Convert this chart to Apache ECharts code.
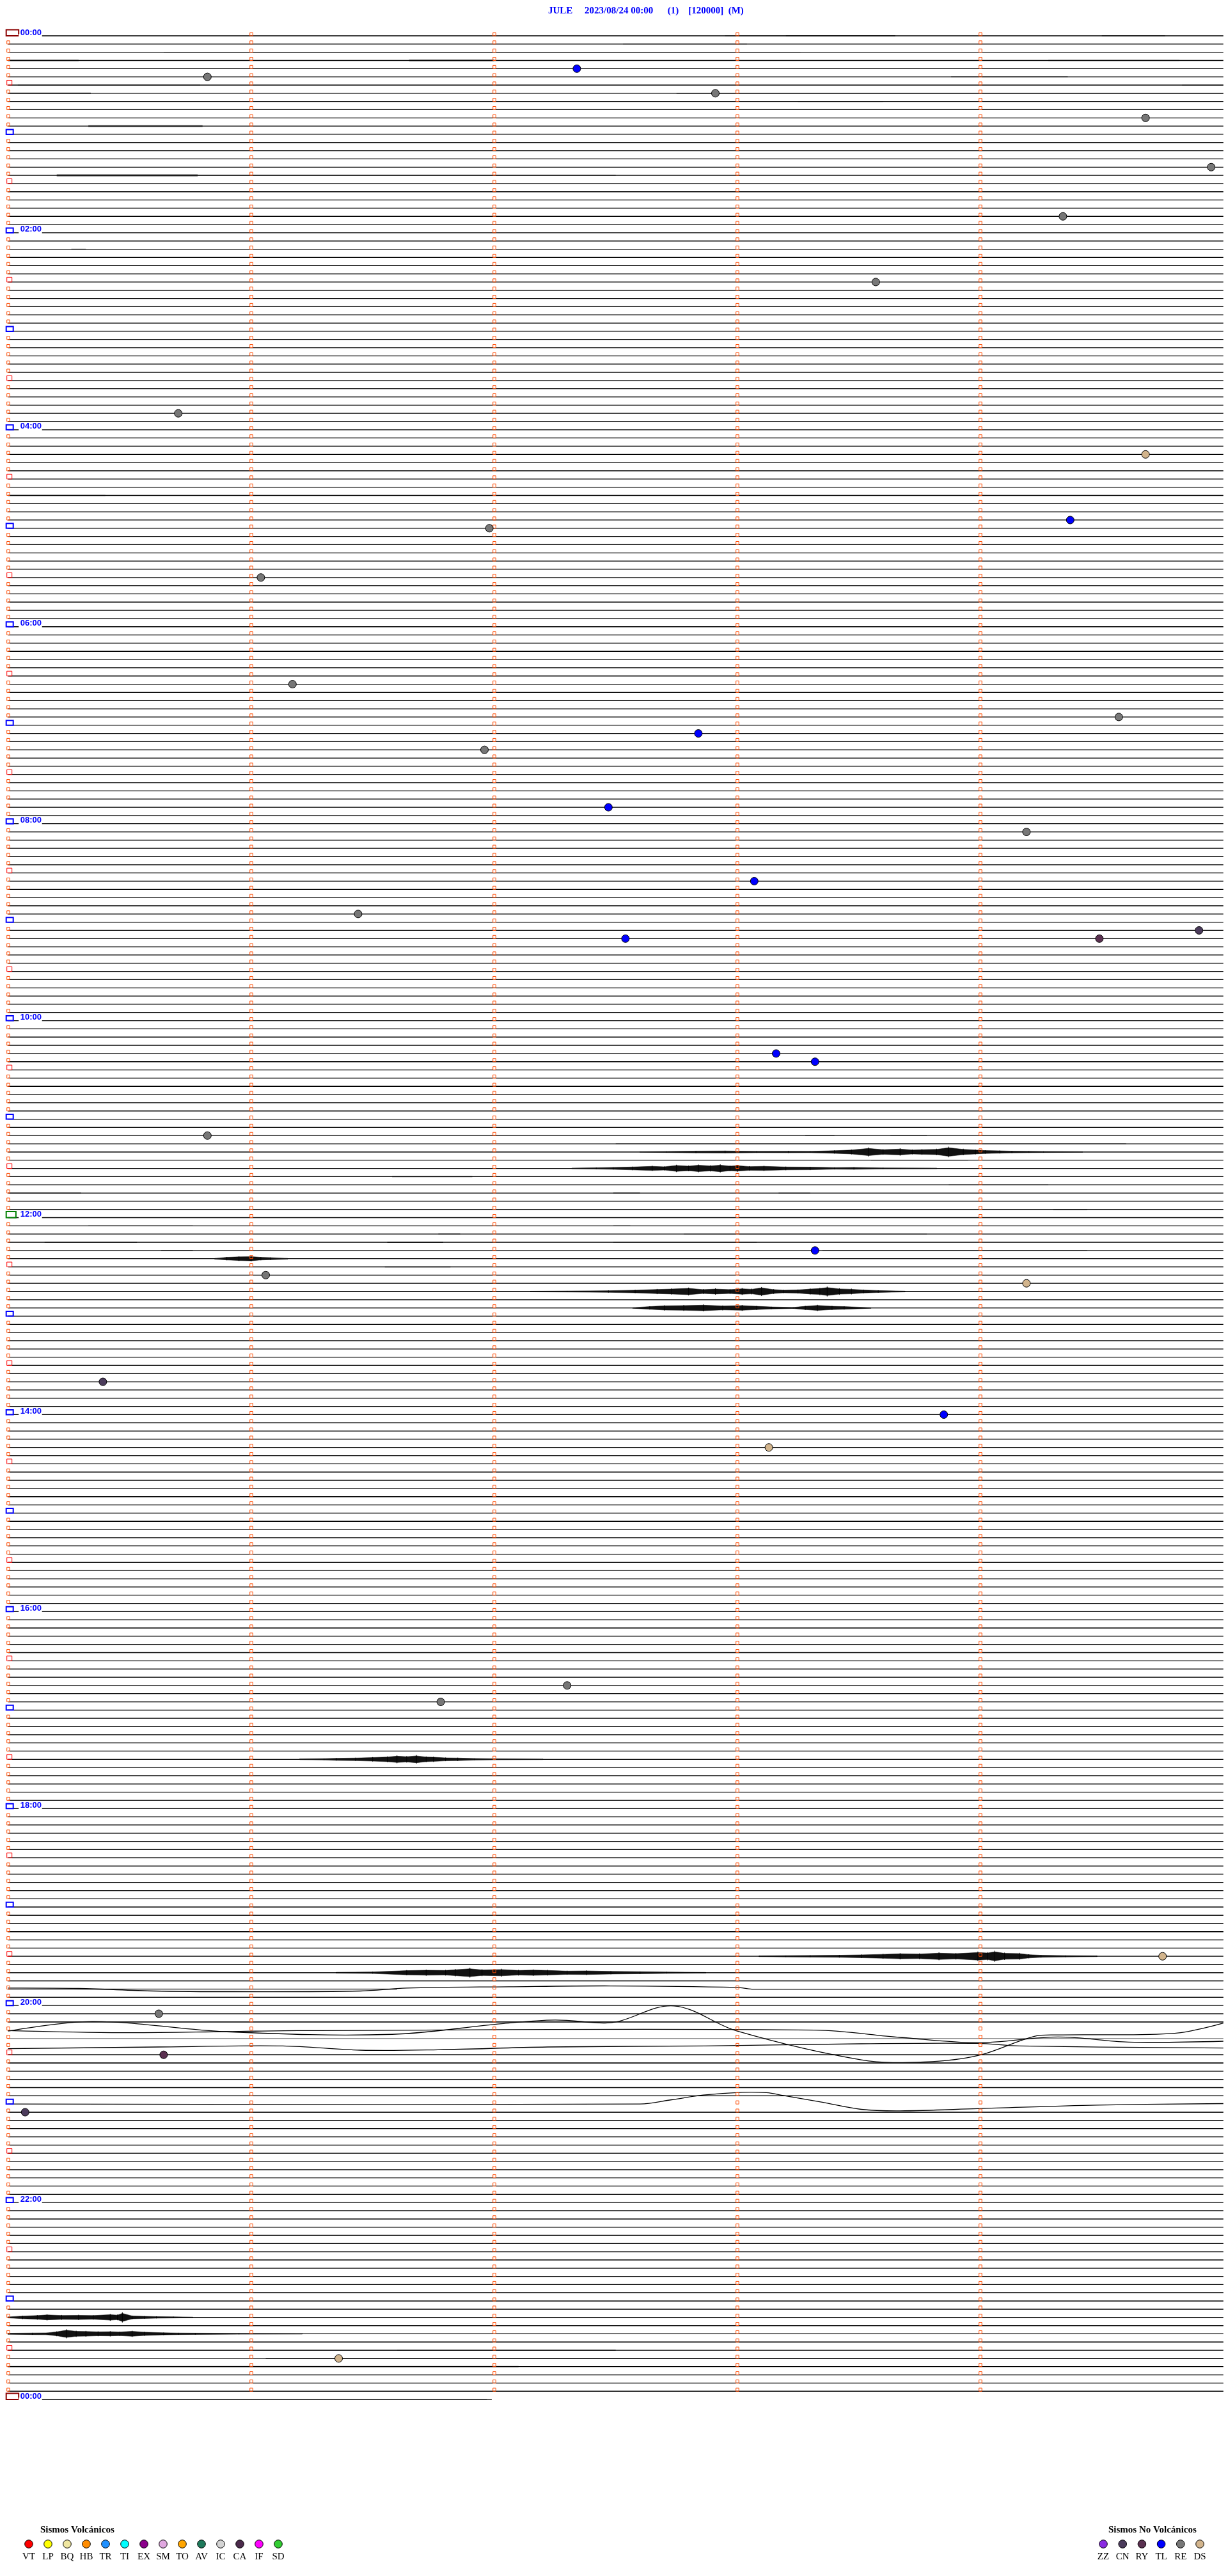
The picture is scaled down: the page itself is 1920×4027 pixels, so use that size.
<!DOCTYPE html>
<html><head><meta charset="utf-8">
<script src="https://cdn.jsdelivr.net/npm/echarts/dist/echarts.min.js"></script>
<style>html,body{margin:0;padding:0;background:#fff}#c{width:1920px;height:4027px}</style>
</head><body><div id="c"></div>
<script>
// ---------------- DATA ----------------
const stationTitle = 'JULE     2023/08/24 00:00      (1)    [120000]  (M)';
const traceCount = 289;            // 288 five-minute traces + first trace of next day
const minuteTicks = [0, 1, 2, 3, 4];
const lastTraceEnd = 1.99;         // minutes recorded on the final trace
const hourLabelTraces = [0, 24, 48, 72, 96, 120, 144, 168, 192, 216, 240, 264, 288];
const hourLabelTexts = ['00:00','02:00','04:00','06:00','08:00','10:00','12:00','14:00','16:00','18:00','20:00','22:00','00:00'];

// events: [minute within trace, trace index]
const eventsRE = [[0.82,5],[2.91,7],[4.68,10],[4.95,16],[4.34,22],[3.57,30],[0.70,46],[1.98,60],[1.04,66],[1.17,79],[4.57,83],[1.96,87],[4.19,97],[1.44,107],[0.82,134],[1.06,151],[2.30,201],[1.78,203],[0.62,241]];
const eventsTL = [[2.34,4],[4.37,59],[2.84,85],[2.47,94],[3.07,103],[2.54,110],[3.16,124],[3.32,125],[3.32,148],[3.85,168]];
const eventsDS = [[4.68,51],[4.19,152],[3.13,172],[4.75,234],[1.36,283]];
const eventsCN = [[4.90,109],[0.39,164],[0.07,253]];
const eventsRY = [[4.49,110],[0.64,246]];

// low-level noise bands: [trace, startMinute, endMinute, halfAmplitude (trace units)]
const noiseBands = [
  [0,3.2,3.65,0.08],[0,2.95,3.2,0.04],[0,4.5,4.76,0.05],
  [1,2.53,3.04,0.04],
  [2,0.64,3.26,0.05],
  [3,0,0.29,0.08],[3,0.29,1.65,0.03],[3,1.65,2.0,0.1],[3,2.0,3.35,0.04],[3,4.28,4.82,0.06],
  [5,3.88,4.36,0.06],
  [6,0.04,0.79,0.05],[6,4.83,5,0.04],
  [7,0,0.34,0.08],[7,2.75,5,0.06],
  [8,3.25,3.6,0.05],
  [9,0.63,2.03,0.04],
  [11,0.33,0.8,0.1],
  [13,0,5,0.07],
  [17,0.2,0.78,0.12],[17,0.78,2.5,0.04],
  [26,0.26,0.32,0.06],[27,0.05,0.13,0.04],
  [56,0,0.4,0.06],
  [133,1.71,2.23,0.04],[133,2.75,3.46,0.04],[133,3.58,4.1,0.04],
  [134,3.28,3.4,0.04],[134,3.63,3.78,0.04],
  [135,2.5,4.6,0.04],[136,0,5,0.03],[137,3.55,3.95,0.04],[138,0,0.6,0.04],
  [139,1.58,1.91,0.06],[140,3.87,4.28,0.04],[141,0,0.3,0.06],[141,2.49,2.6,0.06],[141,3.17,3.3,0.05],
  [143,4.3,4.44,0.06],[145,0.33,0.76,0.04],[145,2.49,2.56,0.05],
  [146,1.77,1.86,0.05],[146,2.78,3.78,0.04],
  [147,0.15,0.53,0.05],[147,1.56,1.79,0.07],[147,2.49,3.08,0.04],
  [148,0.63,0.76,0.05],[148,3.35,4.44,0.04],[150,1.55,1.82,0.05],
  [153,0,5,0.03],[155,0,5,0.03],
  [228,0,5,0.03],[229,0,5,0.03],[230,0,5,0.04],[231,0,5,0.04],[232,0,5,0.04],[233,0,5,0.04],
  [235,0,5,0.05],[236,0,5,0.04],[237,0,5,0.05],[238,0,1.6,0.07],[239,0,5,0.04],[241,0,5,0.04],[242,0,5,0.06],
  [244,0,5,0.03],[246,0,5,0.05],[247,0,5,0.04],[248,0,5,0.04],[249,0,5,0.05],[250,0,5,0.04],[251,0,5,0.04],
  [253,0,5,0.04],[254,0,5,0.05],
  [266,0,5,0.03],[267,0,5,0.03],[268,0,5,0.03],[269,0,5,0.03],[270,0,5,0.035],[271,0,5,0.035],[272,0,5,0.035],[273,0,5,0.035],
  [274,0,5,0.04],[275,0,5,0.05],[276,0,5,0.045],[277,0,5,0.06],[279,0,5,0.045],[281,0,5,0.04],[282,0,1.6,0.04],[282,1.6,2.5,0.06],
  [283,1.06,5,0.06],[284,0,2.1,0.07],[285,0.77,1.87,0.04],[286,0,5,0.03],[287,0,5,0.03],[288,0.1,1.97,0.04]
];

// seismic bursts: envelope points [minute, halfAmplitude]
const burstTraces = [136, 138, 149, 153, 155, 210, 234, 236, 278, 280];
const burstEnvelopes = [
  [[2.6,0.03],[2.71,0.08],[2.83,0.14],[2.95,0.16],[3.08,0.1],[3.21,0.12],[3.3,0.1],[3.4,0.2],[3.47,0.3],[3.54,0.55],[3.6,0.35],[3.67,0.45],[3.72,0.3],[3.76,0.35],[3.82,0.4],[3.87,0.65],[3.93,0.4],[3.98,0.3],[4.02,0.22],[4.08,0.18],[4.13,0.13],[4.2,0.1],[4.26,0.08],[4.42,0.04]],
  [[2.32,0.05],[2.42,0.1],[2.49,0.14],[2.57,0.22],[2.65,0.32],[2.7,0.25],[2.75,0.45],[2.8,0.35],[2.84,0.48],[2.89,0.38],[2.93,0.5],[2.97,0.35],[3.0,0.42],[3.05,0.28],[3.11,0.32],[3.2,0.22],[3.3,0.2],[3.4,0.12],[3.48,0.14],[3.6,0.08],[3.82,0.05]],
  [[0.85,0.05],[0.9,0.2],[0.95,0.28],[1.0,0.32],[1.04,0.2],[1.08,0.16],[1.15,0.05]],
  [[2.15,0.05],[2.3,0.08],[2.47,0.13],[2.58,0.2],[2.67,0.32],[2.73,0.38],[2.8,0.48],[2.86,0.3],[2.91,0.38],[2.97,0.3],[3.02,0.42],[3.06,0.35],[3.1,0.55],[3.15,0.3],[3.19,0.2],[3.25,0.25],[3.3,0.38],[3.34,0.45],[3.37,0.6],[3.42,0.4],[3.47,0.35],[3.52,0.22],[3.58,0.15],[3.69,0.06]],
  [[2.57,0.05],[2.64,0.2],[2.7,0.32],[2.78,0.36],[2.86,0.42],[2.94,0.3],[3.02,0.36],[3.08,0.25],[3.14,0.15],[3.23,0.08],[3.28,0.25],[3.33,0.38],[3.39,0.25],[3.44,0.2],[3.55,0.05]],
  [[1.2,0.05],[1.3,0.1],[1.35,0.16],[1.43,0.2],[1.5,0.27],[1.56,0.35],[1.6,0.48],[1.64,0.4],[1.68,0.52],[1.72,0.35],[1.75,0.32],[1.8,0.22],[1.85,0.2],[1.92,0.12],[2.0,0.08],[2.2,0.04]],
  [[3.09,0.05],[3.2,0.09],[3.3,0.13],[3.42,0.16],[3.51,0.22],[3.6,0.3],[3.67,0.38],[3.75,0.35],[3.83,0.48],[3.9,0.4],[3.99,0.58],[4.03,0.5],[4.06,0.68],[4.1,0.45],[4.16,0.42],[4.2,0.25],[4.25,0.16],[4.35,0.1],[4.48,0.05]],
  [[1.35,0.06],[1.5,0.12],[1.64,0.32],[1.72,0.38],[1.8,0.35],[1.84,0.45],[1.9,0.6],[1.95,0.42],[2.03,0.48],[2.1,0.35],[2.16,0.4],[2.22,0.35],[2.3,0.25],[2.38,0.28],[2.48,0.2],[2.6,0.15],[2.71,0.1],[2.87,0.05]],
  [[0,0.08],[0.06,0.2],[0.12,0.28],[0.16,0.38],[0.22,0.3],[0.29,0.32],[0.35,0.28],[0.42,0.42],[0.45,0.35],[0.47,0.62],[0.51,0.22],[0.56,0.16],[0.61,0.12],[0.68,0.09],[0.76,0.05]],
  [[0,0.08],[0.1,0.12],[0.16,0.14],[0.2,0.3],[0.24,0.55],[0.28,0.38],[0.32,0.36],[0.37,0.3],[0.42,0.32],[0.46,0.28],[0.51,0.38],[0.56,0.25],[0.64,0.16],[0.7,0.12],[0.77,0.1],[0.95,0.07],[1.21,0.05]]
];

// long-period drifts: [minute, offset (trace units, + = down)]
const waveTraces = [238, 243, 244, 245, 252];
const waveOffsets = [
  [[0,-0.13],[0.29,-0.08],[0.6,0.23],[0.93,0.31],[1.45,0.23],[1.64,-0.13],[2.06,-0.29],[2.48,-0.39],[3.0,-0.21],[3.06,0],[5,0]],
  [[0,0.05],[0.47,0.31],[0.9,0.18],[1.19,0.05],[3.32,0],[3.67,0.88],[3.99,1.53],[4.32,0.83],[4.61,1.45],[5,1.35]],
  [[0,-0.88],[0.35,-2.05],[0.9,-0.8],[1.58,-0.49],[2.03,-1.79],[2.25,-2.23],[2.45,-1.87],[2.51,-2.05],[2.74,-3.95],[3.0,-0.88],[3.51,2.62],[3.77,2.88],[3.99,2.1],[4.22,-0.23],[4.32,-0.42],[4.8,-0.62],[5,-1.87]],
  [[0,0.26],[0.62,0.05],[1.13,-0.08],[1.45,0.44],[1.77,0.39],[2.22,0.05],[2.87,-0.08],[3.51,-0.34],[3.99,-0.39],[4.16,-0.08],[5,0.18]],
  [[0,0],[2.6,0],[2.73,-0.52],[2.86,-1.09],[3.02,-1.43],[3.12,-1.38],[3.19,-1.04],[3.35,-0.21],[3.51,0.65],[3.67,0.83],[3.99,0.57],[4.48,0.13],[5,-0.05]]
];

const volcanicCodes = ['VT','LP','BQ','HB','TR','TI','EX','SM','TO','AV','IC','CA','IF','SD'];
const volcanicColors = ['#ff0000','#ffff00','#efe6a0','#ff8c00','#1e90ff','#00ffff','#8b008b','#e0a8e0','#ffa500','#1f7a5c','#d3d3d3','#4b2a4b','#ff00ff','#32cd32'];
const nonVolcanicCodes = ['ZZ','CN','RY','TL','RE','DS'];
const nonVolcanicColors = ['#8a2be2','#4b3b5b','#5a3050','#0000ff','#777777','#d2b48c'];

// ---------------- CHART ----------------
const chart = echarts.init(document.getElementById('c'), null, {renderer:'canvas', width:1920, height:4027});
const waveMap = {}; waveTraces.forEach((t,k)=>waveMap[t]=waveOffsets[k]);
const burstMap = {}; burstTraces.forEach((t,k)=>burstMap[t]=burstEnvelopes[k]);
const labelMap = {}; hourLabelTraces.forEach((t,k)=>labelMap[t]=hourLabelTexts[k]);

const traceData = []; for (let i=0;i<traceCount;i++) traceData.push([0,i]);

function renderTrace(params, api){
  const i = api.value(1);
  const w = waveMap[i];
  let pts;
  if (w) pts = w.map(p=>api.coord([p[0], i+p[1]]));
  else pts = [api.coord([0,i]), api.coord([i===288?lastTraceEnd:5, i])];
  if (i===0 || i===288) pts[0] = api.coord([0.138, i]);
  return {type:'polyline', shape:{points:pts, smooth: w?0.35:0}, style:{stroke:'#000', lineWidth:1.3, fill:null}, silent:true};
}
function box(x,y,w,h,color,lw){
  return {type:'rect', shape:{x:x,y:y,width:w,height:h}, style:{fill:null, stroke:color, lineWidth:lw}, silent:true};
}
function renderMarks(params, api){
  const i = api.value(1);
  const children = [];
  minuteTicks.forEach(m=>{
    const p = api.coord([m,i]); const x = p[0], y = p[1];
    if (m===0){
      if (i===0||i===288) children.push(box(x-3,y-9.5,19.5,9.5,'#8b0000',2));
      else if (i===144) children.push(box(x-3,y-9.5,15.2,9.5,'#008000',2));
      else if (i%12===0) children.push(box(x-3,y-7.5,11,7.5,'#0000ff',2));
      else if (i%6===0) children.push(box(x-2,y-7.5,8,7.5,'#ff0000',1));
      else children.push(box(x-2,y-5,4.5,5,'#ff4a00',1));
    } else if (i<288){
      children.push(box(x-2,y-5,4.5,5,'#ff4a00',1));
    }
  });
  if (labelMap[i]!==undefined){
    const p = api.coord([0,i]);
    children.push({type:'rect', shape:{x:p[0]+16.5,y:p[1]-3,width:36.5,height:6}, style:{fill:'#fff'}, silent:true});
    children.push({type:'text', style:{text:labelMap[i], x:p[0]+19, y:p[1]+1.5, fill:'#0000ff', font:'bold 13px "Liberation Sans", Arial, sans-serif', align:'left', verticalAlign:'bottom'}, silent:true});
  }
  return {type:'group', children:children};
}
function renderNoise(params, api){
  const i = api.value(1), m0 = api.value(0), m1 = api.value(2), a = api.value(3);
  const p0 = api.coord([m0, i-a]), p1 = api.coord([m1, i+a]);
  return {type:'rect', shape:{x:p0[0], y:p0[1], width:p1[0]-p0[0], height:Math.max(p1[1]-p0[1],1)}, style:{fill:'#000', opacity:0.6}, silent:true};
}
const burstData = burstTraces.map(t=>[0,t]);
function renderBurst(params, api){
  const i = api.value(1);
  const env = burstMap[i];
  const top = env.map(p=>api.coord([p[0], i-p[1]*0.8]));
  const bot = env.slice().reverse().map(p=>api.coord([p[0], i+p[1]*0.8]));
  const children = [{type:'polygon', shape:{points:top.concat(bot)}, style:{fill:'#111', stroke:'#000', lineWidth:0.5}}];
  env.forEach(p=>{
    const a = api.coord([p[0], i-p[1]]), b = api.coord([p[0], i+p[1]]);
    children.push({type:'line', shape:{x1:a[0],y1:a[1],x2:b[0],y2:b[1]}, style:{stroke:'#000', lineWidth:1}});
  });
  return {type:'group', children:children, silent:true};
}
function evSeries(name, data, color){
  return {name:name, type:'scatter', data:data, symbol:'circle', symbolSize:12, z:10,
    itemStyle:{color:color, borderColor:'#000', borderWidth:1, opacity:1}, silent:true};
}

const graphics = [];
const serifBold = 'bold 15px "Liberation Serif", "Times New Roman", serif';
const serif = '15px "Liberation Serif", "Times New Roman", serif';
graphics.push({type:'text', left:63, top:3948, style:{text:'Sismos Volcánicos', font:serifBold, fill:'#000'}});
volcanicCodes.forEach((c,k)=>{
  const cx = 45 + k*30;
  graphics.push({type:'circle', shape:{cx:cx, cy:3977, r:6.3}, style:{fill:volcanicColors[k], stroke:'#000', lineWidth:1}});
  graphics.push({type:'text', x:cx, y:3997, style:{text:c, font:serif, fill:'#000', align:'center', verticalAlign:'middle'}});
});
graphics.push({type:'text', left:1733, top:3948, style:{text:'Sismos No Volcánicos', font:serifBold, fill:'#000'}});
nonVolcanicCodes.forEach((c,k)=>{
  const cx = 1725 + k*30.2;
  graphics.push({type:'circle', shape:{cx:cx, cy:3977, r:6.3}, style:{fill:nonVolcanicColors[k], stroke:'#000', lineWidth:1}});
  graphics.push({type:'text', x:cx, y:3997, style:{text:c, font:serif, fill:'#000', align:'center', verticalAlign:'middle'}});
});

chart.setOption({
  animation:false,
  backgroundColor:'#ffffff',
  title:{text:stationTitle, left:852, top:5, textStyle:{color:'#0000ff', fontFamily:'"Liberation Serif", "Times New Roman", serif', fontWeight:'bold', fontSize:15}},
  grid:{left:12.7, top:56, width:1900, height:12.83*288, containLabel:false},
  xAxis:{type:'value', min:0, max:5, show:false},
  yAxis:{type:'value', min:0, max:288, inverse:true, show:false},
  series:[
    {type:'custom', name:'traces', data:traceData, renderItem:renderTrace, clip:false, z:1, silent:true},
    {type:'custom', name:'noise', data:noiseBands.map(r=>[r[1],r[0],r[2],r[3]]), renderItem:renderNoise, clip:false, z:2, silent:true},
    {type:'custom', name:'bursts', data:burstData, renderItem:renderBurst, clip:false, z:3, silent:true},
    {type:'custom', name:'marks', data:traceData, renderItem:renderMarks, clip:false, z:4, silent:true},
    evSeries('RE', eventsRE, nonVolcanicColors[4]),
    evSeries('TL', eventsTL, nonVolcanicColors[3]),
    evSeries('DS', eventsDS, nonVolcanicColors[5]),
    evSeries('CN', eventsCN, nonVolcanicColors[1]),
    evSeries('RY', eventsRY, nonVolcanicColors[2])
  ],
  graphic:graphics
});
</script>
</body></html>
